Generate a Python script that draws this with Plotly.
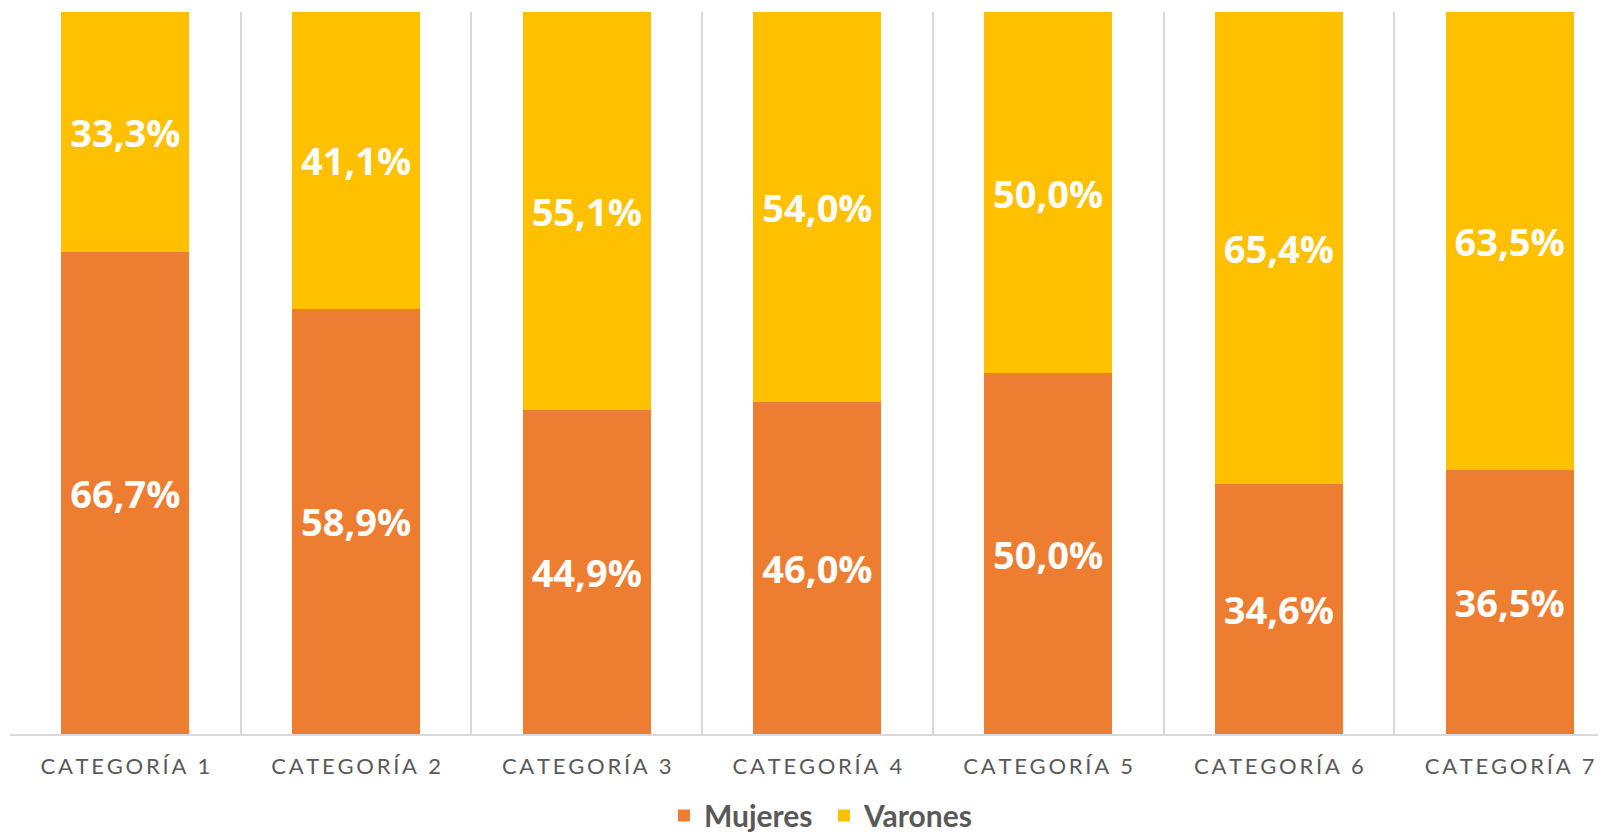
import plotly.graph_objects as go

categories = ["Categoría 1", "Categoría 2", "Categoría 3", "Categoría 4",
              "Categoría 5", "Categoría 6", "Categoría 7"]
mujeres = [0.667, 0.589, 0.449, 0.460, 0.500, 0.346, 0.365]
varones = [0.333, 0.411, 0.551, 0.540, 0.500, 0.654, 0.635]

COLORS = {"Mujeres": "#ED7D31", "Varones": "#FFC000"}
GRID = "#D9D9D9"


def spaced(label):
    # Excel-style letter spacing on the category labels
    return "\u2009".join(label.upper())


x_pos = list(range(len(categories)))

fig = go.Figure()
for name, values in (("Mujeres", mujeres), ("Varones", varones)):
    fig.add_trace(go.Bar(
        x=x_pos,
        y=values,
        name=name,
        marker=dict(color=COLORS[name], line=dict(width=0)),
        width=0.555,
        texttemplate="%{y:.1%}",
        textposition="inside",
        insidetextanchor="middle",
        textangle=0,
        textfont=dict(family="Open Sans", size=38, color="white", weight="bold"),
        hovertemplate=f"{name}<br>%{{customdata}}: %{{y:.1%}}<extra></extra>",
        customdata=categories,
    ))

# page body has an 8px margin, so margins are shifted to compensate
fig.update_layout(
    barmode="stack",
    separators=",.",
    width=1606,
    height=832,
    paper_bgcolor="white",
    plot_bgcolor="white",
    margin=dict(l=2, r=8, t=4, b=106, autoexpand=False),
    legend=dict(
        orientation="h",
        x=0.51, xanchor="center",
        y=-0.113, yanchor="middle",
        font=dict(family="Lato", size=30, color="#595959", weight="bold"),
        itemwidth=30,
        entrywidth=115,
        traceorder="normal",
    ),
    xaxis=dict(
        tickvals=x_pos,
        ticktext=[spaced(c) for c in categories],
        range=[-0.5, 6.418],
        showgrid=False,
        zeroline=False,
        showline=True,
        linecolor=GRID,
        linewidth=2,
        ticks="",
        ticklabelstandoff=12,
        automargin=False,
        tickfont=dict(family="Lato", size=22, color="#595959"),
        minor=dict(tick0=-0.5, dtick=1, showgrid=True, gridcolor=GRID,
                   gridwidth=2, ticks=""),
    ),
    yaxis=dict(
        range=[0, 1],
        visible=False,
        showgrid=False,
        zeroline=False,
    ),
)

fig.write_html("out.html")
